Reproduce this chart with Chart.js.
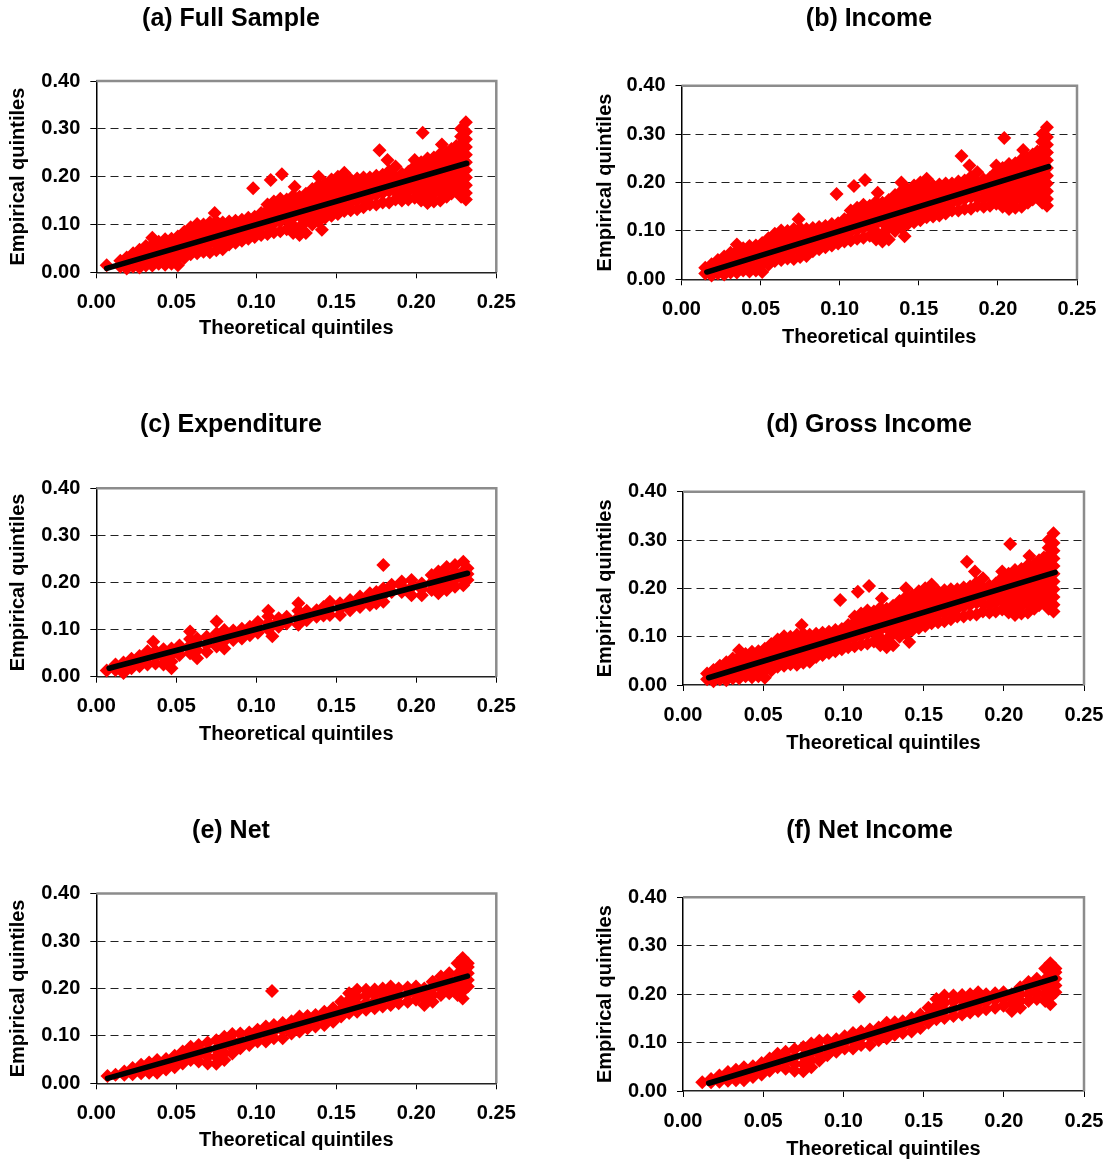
<!DOCTYPE html>
<html>
<head>
<meta charset="utf-8">
<script src="https://cdn.jsdelivr.net/npm/chart.js@4.4.1/dist/chart.umd.min.js"></script>
<style>
html, body { margin:0; padding:0; background:#fff; overflow:hidden; width:1112px; height:1162px; }
#wrap { position:relative; width:1112px; height:1162px; overflow:hidden; }
</style>
</head>
<body>
<div id="wrap"></div>
<script>
// ---------------- DATA ----------------
const panelTitles = ['(a) Full Sample', '(b) Income', '(c) Expenditure', '(d) Gross Income', '(e) Net', '(f) Net Income'];
const xAxisTitle = 'Theoretical quintiles';
const yAxisTitle = 'Empirical quintiles';
const xTickLabels = ['0.00', '0.05', '0.10', '0.15', '0.20', '0.25'];
const yTickLabels = ['0.00', '0.10', '0.20', '0.30', '0.40'];

// Each entry: [theoretical quintile, [empirical quintiles observed at that x]]
const incomeCloud = [
  [0.015, [0.012, 0.024]],
  [0.019, [0.008, 0.020, 0.031]],
  [0.023, [0.012, 0.028, 0.040]],
  [0.027, [0.010, 0.022, 0.036, 0.047]],
  [0.031, [0.014, 0.030, 0.044, 0.055]],
  [0.035, [0.014, 0.026, 0.042, 0.058, 0.072]],
  [0.039, [0.018, 0.034, 0.050, 0.064]],
  [0.043, [0.016, 0.030, 0.046, 0.062, 0.069]],
  [0.047, [0.018, 0.038, 0.054, 0.070]],
  [0.051, [0.015, 0.030, 0.046, 0.062, 0.075]],
  [0.055, [0.030, 0.042, 0.058, 0.074, 0.085]],
  [0.059, [0.038, 0.050, 0.066, 0.082, 0.094]],
  [0.063, [0.040, 0.058, 0.074, 0.090, 0.101]],
  [0.067, [0.043, 0.054, 0.070, 0.086, 0.100]],
  [0.071, [0.042, 0.062, 0.078, 0.094, 0.104]],
  [0.074, [0.124]],
  [0.075, [0.046, 0.058, 0.074, 0.090, 0.106]],
  [0.079, [0.048, 0.066, 0.082, 0.098, 0.104]],
  [0.083, [0.058, 0.074, 0.090, 0.106]],
  [0.087, [0.062, 0.078, 0.094, 0.108]],
  [0.091, [0.066, 0.082, 0.098, 0.110]],
  [0.095, [0.070, 0.086, 0.102, 0.114]],
  [0.098, [0.176]],
  [0.099, [0.074, 0.090, 0.106, 0.116]],
  [0.103, [0.078, 0.094, 0.110, 0.124]],
  [0.107, [0.080, 0.098, 0.114, 0.130, 0.142]],
  [0.109, [0.193]],
  [0.111, [0.084, 0.102, 0.118, 0.134, 0.148]],
  [0.115, [0.086, 0.106, 0.122, 0.138, 0.154]],
  [0.116, [0.205]],
  [0.119, [0.090, 0.110, 0.126, 0.142, 0.152]],
  [0.123, [0.082, 0.098, 0.114, 0.130, 0.146, 0.160]],
  [0.124, [0.179]],
  [0.127, [0.078, 0.094, 0.118, 0.134, 0.150, 0.158]],
  [0.131, [0.082, 0.106, 0.122, 0.138, 0.154, 0.164]],
  [0.135, [0.100, 0.114, 0.130, 0.146, 0.162, 0.174]],
  [0.139, [0.106, 0.118, 0.134, 0.150, 0.166, 0.182, 0.200]],
  [0.141, [0.089]],
  [0.143, [0.114, 0.126, 0.142, 0.158, 0.174, 0.186]],
  [0.147, [0.118, 0.130, 0.146, 0.162, 0.178, 0.194]],
  [0.151, [0.122, 0.138, 0.154, 0.170, 0.186, 0.200]],
  [0.155, [0.128, 0.142, 0.158, 0.174, 0.190, 0.208]],
  [0.159, [0.130, 0.146, 0.162, 0.178, 0.194]],
  [0.163, [0.132, 0.150, 0.166, 0.182, 0.196]],
  [0.167, [0.136, 0.154, 0.170, 0.186, 0.198]],
  [0.171, [0.142, 0.158, 0.174, 0.190, 0.198]],
  [0.175, [0.142, 0.162, 0.178, 0.194, 0.202]],
  [0.177, [0.255]],
  [0.179, [0.146, 0.166, 0.182, 0.198, 0.204]],
  [0.182, [0.235]],
  [0.183, [0.146, 0.170, 0.186, 0.202, 0.212]],
  [0.187, [0.152, 0.168, 0.184, 0.200, 0.221]],
  [0.191, [0.150, 0.166, 0.182, 0.198, 0.206]],
  [0.195, [0.152, 0.170, 0.186, 0.202, 0.210]],
  [0.199, [0.156, 0.174, 0.190, 0.206, 0.222, 0.235]],
  [0.203, [0.150, 0.164, 0.180, 0.196, 0.212, 0.230]],
  [0.204, [0.292]],
  [0.207, [0.145, 0.160, 0.176, 0.192, 0.208, 0.224, 0.238]],
  [0.211, [0.148, 0.164, 0.180, 0.196, 0.212, 0.228, 0.240]],
  [0.215, [0.150, 0.168, 0.184, 0.200, 0.216, 0.232, 0.248]],
  [0.216, [0.267]],
  [0.219, [0.158, 0.172, 0.188, 0.204, 0.220, 0.236, 0.250]],
  [0.222, [0.165, 0.180, 0.196, 0.212, 0.228, 0.244, 0.258]],
  [0.225, [0.170, 0.184, 0.200, 0.216, 0.232, 0.248, 0.264]],
  [0.228, [0.158, 0.172, 0.188, 0.204, 0.220, 0.236, 0.252, 0.268, 0.284, 0.300]],
  [0.231, [0.152, 0.166, 0.182, 0.198, 0.214, 0.230, 0.246, 0.262, 0.278, 0.294, 0.314]]
];
const fullSampleExtra = [[0.0065, [0.0147]]];

const expenditureCloud = [
  [0.0065, [0.013]],
  [0.012, [0.014, 0.026]],
  [0.017, [0.008, 0.020, 0.030]],
  [0.022, [0.018, 0.030, 0.038]],
  [0.027, [0.022, 0.034, 0.044]],
  [0.032, [0.026, 0.040, 0.054]],
  [0.0356, [0.074]],
  [0.037, [0.028, 0.042, 0.055]],
  [0.042, [0.026, 0.040, 0.054, 0.058]],
  [0.047, [0.018, 0.032, 0.046, 0.060]],
  [0.052, [0.046, 0.058, 0.066]],
  [0.0586, [0.050, 0.066, 0.080, 0.096]],
  [0.063, [0.039, 0.056, 0.070, 0.081]],
  [0.069, [0.053, 0.068, 0.085]],
  [0.0752, [0.064, 0.078, 0.092, 0.117]],
  [0.080, [0.060, 0.076, 0.090, 0.099]],
  [0.0856, [0.078, 0.092, 0.098]],
  [0.091, [0.081, 0.094, 0.102]],
  [0.096, [0.088, 0.100, 0.106]],
  [0.101, [0.093, 0.105, 0.116]],
  [0.1075, [0.100, 0.114, 0.128, 0.140]],
  [0.110, [0.086]],
  [0.114, [0.106, 0.118, 0.124]],
  [0.119, [0.113, 0.124, 0.127]],
  [0.1263, [0.110, 0.126, 0.140, 0.156]],
  [0.1315, [0.120, 0.132, 0.140]],
  [0.1377, [0.127, 0.136, 0.141]],
  [0.142, [0.130, 0.142, 0.148]],
  [0.146, [0.131, 0.145, 0.159]],
  [0.1523, [0.131, 0.144, 0.156]],
  [0.1586, [0.141, 0.152, 0.163]],
  [0.1648, [0.148, 0.160, 0.170]],
  [0.171, [0.152, 0.165, 0.177]],
  [0.175, [0.156, 0.168, 0.180]],
  [0.1794, [0.159, 0.173, 0.187, 0.237]],
  [0.1846, [0.180, 0.195]],
  [0.1909, [0.180, 0.192, 0.202]],
  [0.197, [0.173, 0.190, 0.205]],
  [0.2034, [0.173, 0.186, 0.198]],
  [0.2096, [0.184, 0.200, 0.216]],
  [0.2138, [0.177, 0.190, 0.205, 0.223]],
  [0.219, [0.184, 0.198, 0.214, 0.233]],
  [0.2242, [0.191, 0.206, 0.222, 0.237]],
  [0.2294, [0.194, 0.208, 0.224, 0.244]],
  [0.232, [0.205, 0.218, 0.230]]
];

const netCloud = [
  [0.012, [0.018]],
  [0.0175, [0.018, 0.025]],
  [0.0227, [0.019, 0.032]],
  [0.028, [0.021, 0.030, 0.039]],
  [0.033, [0.022, 0.033, 0.044]],
  [0.038, [0.022, 0.036, 0.049]],
  [0.0436, [0.029, 0.040, 0.051]],
  [0.049, [0.034, 0.046, 0.058]],
  [0.054, [0.042, 0.054, 0.067]],
  [0.059, [0.049, 0.063, 0.077]],
  [0.064, [0.046, 0.060, 0.072, 0.081]],
  [0.0696, [0.042, 0.056, 0.070, 0.086]],
  [0.075, [0.041, 0.056, 0.072, 0.091]],
  [0.080, [0.049, 0.064, 0.080, 0.098]],
  [0.085, [0.063, 0.076, 0.090, 0.104]],
  [0.090, [0.074, 0.088, 0.105]],
  [0.0956, [0.081, 0.094, 0.107]],
  [0.1008, [0.088, 0.100, 0.113]],
  [0.106, [0.088, 0.104, 0.120]],
  [0.1098, [0.1948]],
  [0.111, [0.095, 0.110, 0.123]],
  [0.1165, [0.095, 0.112, 0.127]],
  [0.122, [0.105, 0.118, 0.131]],
  [0.127, [0.109, 0.126, 0.141]],
  [0.132, [0.116, 0.130, 0.142]],
  [0.137, [0.120, 0.133, 0.144]],
  [0.1425, [0.123, 0.138, 0.151]],
  [0.148, [0.130, 0.144, 0.158]],
  [0.153, [0.141, 0.156, 0.172]],
  [0.158, [0.148, 0.162, 0.176, 0.190]],
  [0.163, [0.151, 0.166, 0.182, 0.197]],
  [0.1686, [0.155, 0.170, 0.185, 0.197]],
  [0.174, [0.158, 0.173, 0.188, 0.198]],
  [0.179, [0.162, 0.176, 0.190, 0.200]],
  [0.184, [0.165, 0.180, 0.194, 0.204]],
  [0.189, [0.169, 0.184, 0.200]],
  [0.1946, [0.172, 0.188, 0.202]],
  [0.1998, [0.176, 0.190, 0.204]],
  [0.205, [0.165, 0.180, 0.194, 0.200]],
  [0.2102, [0.172, 0.186, 0.200, 0.214]],
  [0.2154, [0.186, 0.200, 0.214, 0.225]],
  [0.2206, [0.190, 0.204, 0.218, 0.232]],
  [0.2258, [0.186, 0.200, 0.214, 0.230, 0.253]],
  [0.229, [0.179, 0.194, 0.208, 0.222, 0.238, 0.252, 0.264]],
  [0.2322, [0.204, 0.218, 0.232, 0.245, 0.253]]
];
const netExtra = [[0.007, [0.0155]]];

// fitted lines (start and end points)
const fitFullSample = [[0.0065, 0.008], [0.2315, 0.228]];
const fitIncome = [[0.016, 0.015], [0.232, 0.233]];
const fitExpenditure = [[0.008, 0.018], [0.232, 0.2195]];
const fitGrossIncome = [[0.016, 0.015], [0.232, 0.233]];
const fitNet = [[0.007, 0.0105], [0.232, 0.226]];
const fitNetIncome = [[0.016, 0.016], [0.232, 0.233]];

// ---------------- LAYOUT (page pixels) ----------------
// TC/TY: title centre, CL/CR/CT/CB: plot area, YX: y-title centre x, XY: x-title centre y, c: canvas left
const layouts = [
  {TC: 231,   TY: 19.5, CL: 96.3,  CR: 496.3, CT: 81,    CB: 272.3,  YX: 18.3, XY: 328.5,  c: -60},
  {TC: 869,   TY: 19.5, CL: 681.5, CR: 1077,  CT: 85.7,  CB: 279.3,  YX: 605,  XY: 337,    c: 560},
  {TC: 231,   TY: 425,  CL: 96.3,  CR: 496.3, CT: 488.2, CB: 676.7,  YX: 18.3, XY: 734.5,  c: -60},
  {TC: 869,   TY: 425,  CL: 683,   CR: 1084,  CT: 491.7, CB: 685,    YX: 605,  XY: 743,    c: 560},
  {TC: 231,   TY: 831,  CL: 96.3,  CR: 496.3, CT: 893.6, CB: 1083.3, YX: 18.3, XY: 1140.5, c: -60},
  {TC: 869.5, TY: 831,  CL: 683,   CR: 1084,  CT: 897.3, CB: 1091,   YX: 605,  XY: 1149,   c: 560}
];

const panels = [
  {title: panelTitles[0], cloud: fullSampleExtra.concat(incomeCloud), fit: fitFullSample},
  {title: panelTitles[1], cloud: incomeCloud, fit: fitIncome},
  {title: panelTitles[2], cloud: expenditureCloud, fit: fitExpenditure},
  {title: panelTitles[3], cloud: incomeCloud, fit: fitGrossIncome},
  {title: panelTitles[4], cloud: netExtra.concat(netCloud), fit: fitNet},
  {title: panelTitles[5], cloud: netCloud, fit: fitNetIncome}
];

Chart.defaults.font.family = "'Liberation Sans', Arial, Helvetica, sans-serif";
Chart.defaults.color = '#000';

const framePlugin = {
  id: 'frame',
  afterDatasetsDraw(chart) {
    const {ctx, chartArea: a} = chart;
    ctx.save();
    ctx.strokeStyle = '#8c8c8c';
    ctx.lineWidth = 2.5;
    ctx.beginPath();
    ctx.moveTo(a.left, a.top);
    ctx.lineTo(a.right, a.top);
    ctx.lineTo(a.right, a.bottom);
    ctx.stroke();
    ctx.restore();
  }
};

function toPoints(cols) {
  const out = [];
  cols.forEach(([x, ys]) => ys.forEach(y => out.push({x: x, y: y})));
  return out;
}

const TITLE_SIZE = 25;
const LH_T = TITLE_SIZE * 1.2, LH_A = 20 * 1.2;
const wrap = document.getElementById('wrap');

panels.forEach((p, i) => {
  const g = layouts[i];
  const c = g.c;
  const W = Math.round(2 * (g.TC - c));
  const RW = c + W - g.CR;
  const YW = g.CL - c;
  const t = Math.floor(g.TY - 4 - LH_T / 2);
  const tPadTop = g.TY - t - LH_T / 2;
  const tPadBottom = g.CT - t - LH_T - tPadTop;
  const H = Math.ceil(g.CB + 75 - t);
  const XH = t + H - g.CB;
  const xTitlePadBottom = XH - (g.XY - g.CB) - LH_A / 2;
  const yTitlePadTop = g.YX - c - LH_A / 2;

  const cv = document.createElement('canvas');
  cv.width = W; cv.height = H;
  cv.style.cssText = 'position:absolute;left:' + c + 'px;top:' + t + 'px;width:' + W + 'px;height:' + H + 'px;';
  wrap.appendChild(cv);

  const axisFont = {size: 20, weight: 'bold'};

  new Chart(cv, {
    type: 'scatter',
    data: {
      datasets: [
        {
          data: p.fit.map(([x, y]) => ({x: x, y: y})),
          showLine: true, borderColor: '#000', borderWidth: 5.5, borderCapStyle: 'round',
          pointRadius: 0, pointHoverRadius: 0, fill: false, order: 0
        },
        {
          data: toPoints(p.cloud),
          pointStyle: 'rectRot', pointRadius: 7, pointHoverRadius: 7,
          backgroundColor: '#ff0000', borderWidth: 0, order: 1, clip: false
        }
      ]
    },
    options: {
      responsive: false, maintainAspectRatio: false, animation: false, devicePixelRatio: 1, events: [],
      layout: {padding: 0},
      plugins: {
        legend: {display: false},
        tooltip: {enabled: false},
        title: {
          display: true, text: p.title, color: '#000',
          font: {size: TITLE_SIZE, weight: 'bold'},
          padding: {top: tPadTop, bottom: tPadBottom}
        }
      },
      scales: {
        x: {
          type: 'linear', min: 0, max: 0.25,
          afterFit: (s) => { s.height = XH; s.paddingLeft = 0; s.paddingRight = RW; },
          ticks: {stepSize: 0.05, autoSkip: false, maxRotation: 0, padding: 12, color: '#000', font: axisFont,
                  callback: (v, idx) => xTickLabels[idx]},
          grid: {drawOnChartArea: false, drawTicks: true, tickLength: 6, tickColor: '#000', tickWidth: 1},
          border: {display: true, color: '#222', width: 1.5},
          title: {display: true, text: xAxisTitle, color: '#000', font: axisFont, padding: {top: 0, bottom: xTitlePadBottom}}
        },
        y: {
          type: 'linear', min: 0, max: 0.4,
          afterFit: (s) => { s.width = YW; s.paddingTop = 0; s.paddingBottom = 0; },
          ticks: {stepSize: 0.1, autoSkip: false, padding: 10, color: '#000', font: axisFont,
                  callback: (v, idx) => yTickLabels[idx]},
          grid: {
            drawOnChartArea: true, drawTicks: true, tickLength: 6, tickColor: '#000', tickWidth: 1, lineWidth: 1,
            color: (ctx) => (ctx.index === 0 || ctx.index === 4) ? 'rgba(0,0,0,0)' : '#222'
          },
          border: {display: true, color: '#000', width: 1.5, dash: [8, 5]},
          title: {display: true, text: yAxisTitle, color: '#000', font: axisFont, padding: {top: yTitlePadTop, bottom: 0}}
        }
      }
    },
    plugins: [framePlugin]
  });
});
</script>
</body>
</html>
